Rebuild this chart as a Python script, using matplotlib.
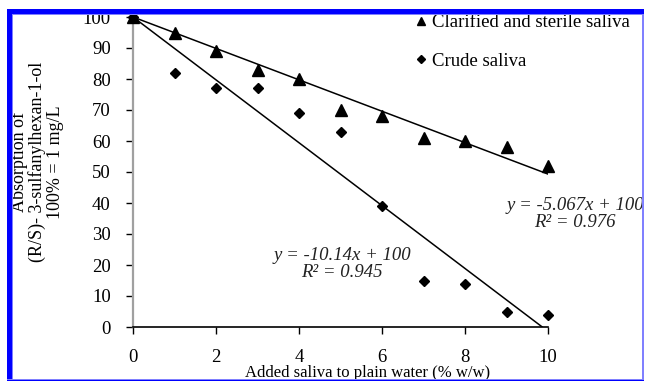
import matplotlib
matplotlib.use("Agg")
import matplotlib.pyplot as plt
from matplotlib.patches import Rectangle
from matplotlib.lines import Line2D
import numpy as np

plt.rcParams['font.family'] = ['Liberation Serif', 'DejaVu Serif']

# ---- data ----
x_added = [0, 1, 2, 3, 4, 5, 6, 7, 8, 9, 10]
clarified = [100, 95, 89, 83, 80, 70, 68, 61, 60, 58, 52]
crude = [100, 82, 77, 77, 69, 63, 39, 15, 14, 5, 4]
fit_clar_slope, fit_clar_icpt = -5.067, 100
fit_crude_slope, fit_crude_icpt = -10.14, 100
x_ticks = [0, 2, 4, 6, 8, 10]
y_ticks = [0, 10, 20, 30, 40, 50, 60, 70, 80, 90, 100]

W, H = 645, 381
fig = plt.figure(figsize=(W / 100, H / 100), dpi=100)
fig.patch.set_facecolor('white')

def px(x0, y0, x1, y1):
    return [x0 / W, 1 - y1 / H, (x1 - x0) / W, (y1 - y0) / H]

ax = fig.add_axes(px(133, 17, 548, 327))
ax.set_xlim(0, 10)
ax.set_ylim(0, 100)
for s in ['top', 'right']:
    ax.spines[s].set_visible(False)
ax.spines['left'].set_color('#a0a0a0')
ax.spines['left'].set_linewidth(1.6)
ax.spines['bottom'].set_color('black')
ax.spines['bottom'].set_linewidth(1.2)
ax.set_xticks(x_ticks)
ax.set_yticks(y_ticks)
ax.tick_params(axis='y', direction='out', length=5, width=1, color='black', pad=11, labelsize=13.5)
ax.tick_params(axis='x', direction='out', length=5, width=1, color='black', pad=11, labelsize=13.5)

# trend lines
xl = np.array([0, 10])
ax.plot(xl, fit_clar_slope * xl + fit_clar_icpt, color='black', lw=1.1, zorder=2)
x_end = -fit_crude_icpt / fit_crude_slope
xc = np.array([0, x_end])
ax.plot(xc, fit_crude_slope * xc + fit_crude_icpt, color='black', lw=1.1, zorder=2)

ax.plot(x_added, clarified, linestyle='none', marker='^', ms=8, color='black', clip_on=False, zorder=3)
ax.plot(x_added, crude, linestyle='none', marker='D', ms=5.5, color='black', clip_on=False, zorder=3)

# legend
handles = [Line2D([], [], linestyle='none', marker='^', ms=6, color='black'),
           Line2D([], [], linestyle='none', marker='D', ms=4.5, color='black')]
fig.legend(handles, ['Clarified and sterile saliva', 'Crude saliva'],
           loc='upper left', bbox_to_anchor=(416 / W, 1 - 14 / H), frameon=False,
           fontsize=13.5, handlelength=0.5, handletextpad=0.35, labelspacing=1.15,
           borderpad=0, borderaxespad=0)

# equations
fig.text(342 / W, 1 - 264 / H, 'y = -10.14x + 100\nR² = 0.945', ha='center', va='center',
         fontsize=13.5, style='italic', linespacing=1.0, color='#222222')
fig.text(575 / W, 1 - 214 / H, 'y = -5.067x + 100\nR² = 0.976', ha='center', va='center',
         fontsize=13.5, style='italic', linespacing=1.0, color='#222222')

# axis labels
fig.text(37 / W, 1 - 162 / H, 'Absorption of\n(R/S)- 3-sulfanylhexan-1-ol\n100% = 1 mg/L',
         rotation=90, ha='center', va='center', multialignment='center',
         fontsize=13, linespacing=1.05)
fig.text(368 / W, 1 - 373 / H, 'Added saliva to plain water (% w/w)', ha='center', va='center',
         fontsize=12)

# blue frame
def rect(x0, y0, x1, y1, c):
    fig.add_artist(Rectangle((x0 / W, 1 - y1 / H), (x1 - x0) / W, (y1 - y0) / H,
                             transform=fig.transFigure, facecolor=c, edgecolor='none', zorder=10))

rect(7, 9, W, 14, '#0000ff')
rect(7, 14, W, 15, '#8080ff')
rect(7, 9, 12, H, '#0000ff')
rect(12, 14, 13, H, '#8080ff')
rect(642, 14, 644, H, '#8080ff')
rect(7, 379, W, 380, '#8080ff')
rect(7, 380, W, H, '#0000ff')
rect(0, 0, W, 9, 'white')
rect(0, 0, 7, H, 'white')
rect(644, 0, W, H, 'white')

fig.savefig('out.png', dpi=100)
